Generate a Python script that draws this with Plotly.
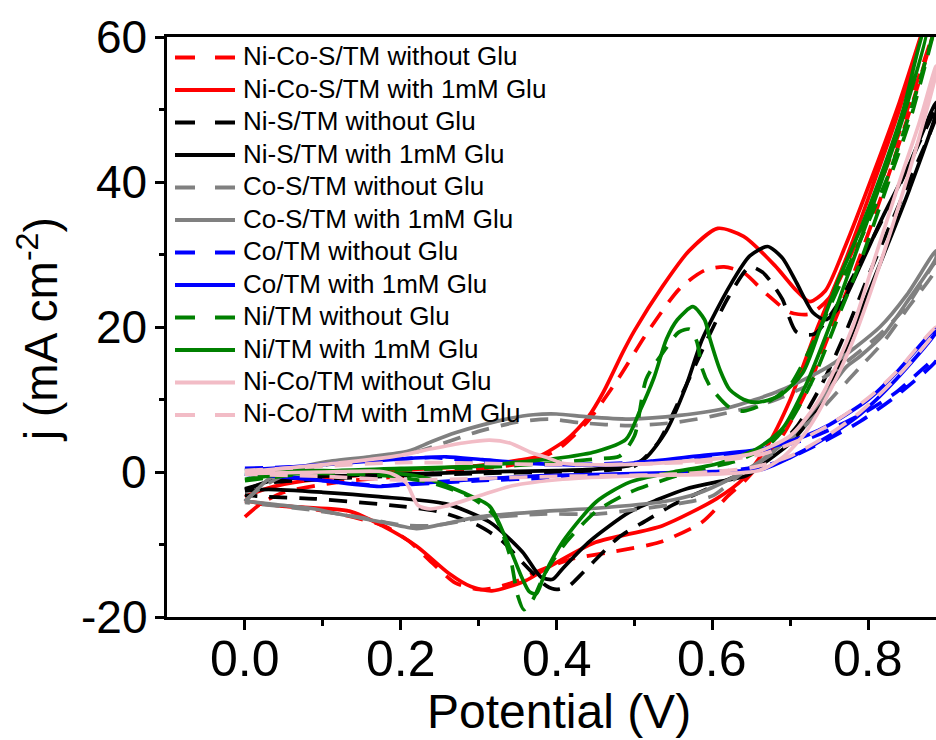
import plotly.graph_objects as go

# ---------------- data (potential V, current density mA cm^-2) ----------------
nicos_no_x = [0, 0.02, 0.05, 0.12, 0.2, 0.3, 0.36, 0.40, 0.44, 0.48, 0.515, 0.558, 0.59, 0.615, 0.64, 0.67, 0.70, 0.725, 0.75, 0.78, 0.82, 0.86, 0.885,
              0.885, 0.86, 0.82, 0.78, 0.75, 0.72, 0.69, 0.66, 0.64, 0.62, 0.587, 0.532, 0.472, 0.42, 0.38, 0.35, 0.32, 0.30, 0.27, 0.24, 0.21, 0.18, 0.13, 0.08, 0.04, 0.0]
nicos_no_y = [-6.2, -4.4, -2.8, -1.4, -0.6, 0.4, 1.3, 3, 7, 13, 19, 25.3, 27.8, 28.3, 27.5, 24.5, 22, 21.8, 24, 30.5, 41, 53, 61,
              61, 52, 39, 27, 19, 11, 5, 1, -1.4, -3.3, -6.9, -9.7, -11, -12, -13.5, -15, -16, -16.2, -15.3, -12.5, -9.5, -7.5, -6, -5, -4.6, -4.2]

nicos_glu_x = [0, 0.03, 0.078, 0.15, 0.2, 0.3, 0.35, 0.378, 0.413, 0.44, 0.46, 0.485, 0.50, 0.536, 0.57, 0.607, 0.64, 0.68, 0.708, 0.725, 0.745, 0.77, 0.806, 0.84, 0.87,
               0.87, 0.84, 0.806, 0.77, 0.734, 0.70, 0.67, 0.639, 0.605, 0.536, 0.45, 0.387, 0.36, 0.317, 0.29, 0.262, 0.22, 0.176, 0.134, 0.048, 0]
nicos_glu_y = [-3.4, -2.2, -1.2, -0.4, 0.2, 0.9, 1.6, 2.2, 4.5, 7.5, 11, 16.5, 19.5, 25.6, 30.5, 33.6, 32.5, 28.5, 25, 23.5, 25, 31, 41, 51, 61,
               61, 50, 39.5, 29, 19.7, 10, 3.5, -1, -3.7, -7.4, -9.7, -13.3, -15, -16.4, -15.8, -14, -10.2, -7.4, -5.4, -4.7, -4]

nis_no_x = [0, 0.03, 0.1, 0.2, 0.3, 0.4, 0.47, 0.5, 0.53, 0.56, 0.59, 0.62, 0.648, 0.665, 0.68, 0.69, 0.708, 0.73, 0.76, 0.80, 0.84, 0.887,
            0.887, 0.84, 0.80, 0.77, 0.74, 0.71, 0.68, 0.65, 0.6, 0.55, 0.515, 0.48, 0.451, 0.43, 0.416, 0.40, 0.387, 0.37, 0.352, 0.33, 0.3, 0.25, 0.198, 0.09, 0.027, 0]
nis_no_y = [-2.3, -1.5, -1, -0.5, -0.2, 0, 0.3, 0.8, 4, 10.5, 17.5, 24, 28.3, 27.5, 25.5, 23.8, 19.3, 19, 23, 31, 39.5, 50,
            49, 37, 27, 19, 12, 6.5, 3, 0.5, -2, -4.5, -6.7, -9, -12, -14.3, -15.7, -16.2, -15.7, -14, -12, -9.5, -7.4, -5.5, -4.7, -3.7, -3.4, -3.2]

nis_glu_x = [0, 0.03, 0.08, 0.2, 0.3, 0.4, 0.45, 0.494, 0.515, 0.54, 0.565, 0.587, 0.622, 0.648, 0.671, 0.69, 0.708, 0.729, 0.745, 0.765, 0.79, 0.82, 0.853, 0.887,
             0.887, 0.853, 0.82, 0.79, 0.76, 0.73, 0.70, 0.67, 0.644, 0.6, 0.567, 0.53, 0.494, 0.442, 0.408, 0.395, 0.38, 0.356, 0.314, 0.258, 0.172, 0.1, 0.03, 0]
nis_glu_y = [-2.5, -1.3, -0.7, -0.3, 0, 0.2, 0.4, 0.9, 2, 5.5, 11.5, 18.3, 25.6, 29.8, 31.1, 29.5, 26.1, 22, 21, 23, 28.5, 35.5, 42.5, 51,
             49.5, 39, 30, 22, 14, 8, 4, 1.5, -0.5, -1.5, -2.3, -3.8, -5.5, -9.6, -13.3, -14.8, -14.5, -11, -6.9, -4.4, -3.4, -2.8, -2.4, -2.6]

cos_no_x = [0, 0.02, 0.05, 0.1, 0.16, 0.21, 0.25, 0.3, 0.35, 0.39, 0.43, 0.494, 0.55, 0.6, 0.677, 0.75, 0.815, 0.85, 0.887,
            0.887, 0.85, 0.82, 0.79, 0.76, 0.73, 0.70, 0.67, 0.64, 0.6, 0.56, 0.5, 0.451, 0.38, 0.3, 0.24, 0.2, 0.15, 0.09, 0]
cos_no_y = [-4, -2.2, -0.5, 0.9, 1.7, 2.5, 3.8, 5.6, 6.9, 7.3, 6.8, 6.4, 6.8, 7.7, 9.8, 13.5, 19, 23, 29,
            28, 22.5, 18, 14.5, 11, 7.5, 4.5, 2, 0, -3.3, -4.3, -5.2, -5.8, -5.8, -6.4, -7.4, -7.3, -6.3, -5.3, -4.2]

cos_glu_x = [0, 0.015, 0.03, 0.06, 0.104, 0.16, 0.21, 0.24, 0.27, 0.305, 0.34, 0.37, 0.4, 0.44, 0.494, 0.558, 0.622, 0.686, 0.75, 0.815, 0.85, 0.887,
             0.887, 0.85, 0.82, 0.79, 0.772, 0.74, 0.71, 0.68, 0.65, 0.622, 0.58, 0.536, 0.45, 0.387, 0.3, 0.25, 0.22, 0.176, 0.12, 0.09, 0.04, 0]
cos_glu_y = [-4.1, -2.5, -1, 0.3, 1.4, 2.1, 2.9, 4.2, 5.4, 6.5, 7.4, 7.9, 8, 7.6, 7.3, 7.8, 8.9, 11.2, 14.6, 20, 24.5, 30.5,
             29.5, 23.5, 19, 16, 14.5, 10, 6, 3, 0.7, -1, -3, -4.1, -5, -5.4, -6.2, -7.3, -7.8, -6.9, -5.8, -5.1, -4.5, -4]

co_no_x = [0, 0.06, 0.15, 0.24, 0.305, 0.4, 0.5, 0.58, 0.665, 0.72, 0.75, 0.8, 0.836, 0.887,
           0.887, 0.836, 0.79, 0.75, 0.7, 0.665, 0.58, 0.472, 0.4, 0.3, 0.2, 0.176, 0.12, 0.05, 0]
co_no_y = [0.5, 0.7, 1.4, 2, 1.4, 1, 1.3, 2, 3, 4.5, 5.8, 8.5, 11, 15.7,
           15.3, 10.5, 7, 4.6, 2, 0.8, -0.2, -0.5, -0.8, -1.2, -1.8, -1.9, -1.4, -0.6, -0.3]

co_glu_x = [0, 0.05, 0.12, 0.2, 0.258, 0.305, 0.365, 0.472, 0.58, 0.665, 0.72, 0.75, 0.8, 0.836, 0.887,
            0.887, 0.836, 0.79, 0.75, 0.7, 0.665, 0.58, 0.472, 0.387, 0.3, 0.2, 0.172, 0.1, 0.03, 0]
co_glu_y = [0.3, 0.6, 1.2, 1.8, 2.1, 1.7, 1.2, 1, 2.2, 3.2, 5, 6.5, 10, 13.7, 19.8,
            19.3, 12.8, 8, 5, 2, 0.4, 0, -0.3, -0.5, -1, -1.7, -2, -1.2, -0.5, -0.3]

ni_no_x = [0, 0.1, 0.2, 0.3, 0.4, 0.45, 0.481, 0.5, 0.515, 0.54, 0.557, 0.571, 0.58, 0.587, 0.597, 0.622, 0.64, 0.674, 0.70, 0.73, 0.76, 0.79, 0.826, 0.855, 0.885,
           0.885, 0.855, 0.826, 0.79, 0.76, 0.73, 0.70, 0.67, 0.63, 0.57, 0.494, 0.45, 0.41, 0.385, 0.37, 0.358, 0.35, 0.34, 0.32, 0.29, 0.24, 0.18, 0.1, 0]
ni_no_y = [-1.2, 0, 0.3, 0.6, 1.3, 1.8, 2.2, 5, 12.8, 17, 19.3, 19.7, 18, 14.2, 11.8, 8.9, 8.4, 9.8, 12, 18, 25, 32, 41, 50, 61,
           61, 49, 40, 29, 21, 13, 7, 3.5, 1.5, 0, -2.8, -5.5, -10, -14, -17.5, -19, -17, -11.5, -6, -3.5, -1.5, -0.5, -0.2, -0.3]

ni_glu_x = [0, 0.05, 0.12, 0.2, 0.3, 0.365, 0.408, 0.45, 0.489, 0.506, 0.525, 0.541, 0.555, 0.575, 0.59, 0.597, 0.61, 0.622, 0.64, 0.657, 0.686, 0.716, 0.738, 0.76, 0.79, 0.815, 0.845, 0.872,
            0.875, 0.845, 0.815, 0.78, 0.75, 0.72, 0.69, 0.657, 0.605, 0.55, 0.494, 0.451, 0.408, 0.385, 0.374, 0.365, 0.356, 0.335, 0.314, 0.279, 0.228, 0.172, 0.1, 0]
ni_glu_y = [-1, -0.3, 0.2, 0.5, 0.8, 1.5, 2, 2.8, 4.5, 8.2, 13, 18.3, 21, 22.8, 21, 18.3, 14, 11.4, 10, 9.6, 10.5, 13.7, 19.7, 26, 33.5, 40.5, 50, 61,
            61, 49, 39.5, 29, 20, 12, 6, 3.2, 1.1, 0, -1.4, -4.1, -9.6, -14, -16.8, -16.5, -14.7, -9.2, -4.7, -2.8, -0.7, 0, 0.2, 0.2]

nico_no_x = [0, 0.06, 0.134, 0.2, 0.24, 0.28, 0.314, 0.34, 0.365, 0.39, 0.408, 0.45, 0.506, 0.58, 0.65, 0.70, 0.74, 0.78, 0.81, 0.84, 0.865, 0.887,
             0.887, 0.865, 0.84, 0.81, 0.78, 0.75, 0.72, 0.69, 0.66, 0.6, 0.506, 0.408, 0.343, 0.3, 0.258, 0.238, 0.222, 0.207, 0.19, 0.172, 0.1, 0]
nico_no_y = [0, 0.6, 1.4, 2.3, 3.2, 4, 4.4, 4, 2.8, 1.9, 1.2, 1, 1.1, 1.6, 2.5, 5, 10.5, 20, 30, 40, 48, 56,
             55, 46, 37, 27, 18, 11, 5.5, 2, 0.2, -0.3, -0.5, -1, -1.9, -3.3, -4.7, -5.1, -4.6, -1.5, -0.3, 0.1, 0, -0.2]

nico_glu_x = [0, 0.1, 0.2, 0.3, 0.4, 0.5, 0.6, 0.665, 0.72, 0.75, 0.8, 0.836, 0.887,
              0.887, 0.836, 0.79, 0.75, 0.7, 0.65, 0.55, 0.472, 0.4, 0.3, 0.2, 0.1, 0]
nico_glu_y = [0.2, 0.8, 1.3, 1.2, 1, 1.1, 1.5, 2.5, 4.8, 6.5, 10.2, 13.8, 20,
              19.5, 13, 8.3, 5.2, 2.2, 0.6, -0.3, -0.5, -0.6, -0.9, -1.1, -0.6, -0.3]

series_names = ["Ni-Co-S/TM without Glu", "Ni-Co-S/TM with 1mM Glu",
                "Ni-S/TM without Glu", "Ni-S/TM with 1mM Glu",
                "Co-S/TM without Glu", "Co-S/TM with 1mM Glu",
                "Co/TM without Glu", "Co/TM with 1mM Glu",
                "Ni/TM without Glu", "Ni/TM with 1mM Glu",
                "Ni-Co/TM without Glu", "Ni-Co/TM with 1mM Glu"]
series_x = [nicos_no_x, nicos_glu_x, nis_no_x, nis_glu_x, cos_no_x, cos_glu_x,
            co_no_x, co_glu_x, ni_no_x, ni_glu_x, nico_no_x, nico_glu_x]
series_y = [nicos_no_y, nicos_glu_y, nis_no_y, nis_glu_y, cos_no_y, cos_glu_y,
            co_no_y, co_glu_y, ni_no_y, ni_glu_y, nico_no_y, nico_glu_y]

x_tick_vals = [0.0, 0.2, 0.4, 0.6, 0.8]
x_tick_text = ["0.0", "0.2", "0.4", "0.6", "0.8"]
x_minor_vals = [0.1, 0.3, 0.5, 0.7]
y_tick_vals = [-20, 0, 20, 40, 60]
y_tick_text = ["-20", "0", "20", "40", "60"]
y_minor_vals = [-10, 10, 30, 50]

# ---------------- styles ----------------
RED, BLACK, GRAY, BLUE, GREEN, PINK = "#FF0000", "#000000", "#808080", "#0000FF", "#008000", "#F2BCC6"
colors = [RED, RED, BLACK, BLACK, GRAY, GRAY, BLUE, BLUE, GREEN, GREEN, PINK, PINK]
dashed = [True, False, True, False, True, False, True, False, True, False, False, True]

W, H = 936, 740
ML, MR, MT, MB = 167, 0, 37, 123
PW, PH = W - ML - MR, H - MT - MB
FONT = "Liberation Sans, Arial, Helvetica, sans-serif"


def pxx(px):
    return (px - ML) / PW


def pxy(py):
    return (H - MB - py) / PH


fig = go.Figure()
for nm, xs, ys, c, d in zip(series_names, series_x, series_y, colors, dashed):
    fig.add_trace(go.Scatter(x=xs, y=ys, mode="lines", name=nm, showlegend=False,
                             line=dict(color=c, width=3.7, dash="18px,12px" if d else "solid",
                                       shape="spline", smoothing=0.7)))

shapes = []
annotations = []
# legend drawn manually
for i, (nm, c, d) in enumerate(zip(series_names, colors, dashed)):
    yrow = 57.5 + 32.5 * i
    shapes.append(dict(type="line", xref="paper", yref="paper",
                       x0=pxx(175), x1=pxx(235), y0=pxy(yrow), y1=pxy(yrow),
                       line=dict(color=c, width=4, dash="20px,20px" if d else "solid")))
    annotations.append(dict(text=nm, xref="paper", yref="paper", x=pxx(241), y=pxy(yrow - 1.5),
                            xanchor="left", yanchor="middle", showarrow=False,
                            font=dict(family=FONT, size=26, color="black")))

# tick labels
for v, t in zip(x_tick_vals, x_tick_text):
    annotations.append(dict(text=t, xref="x", yref="paper", x=v, y=pxy(629),
                            xanchor="center", yanchor="top", showarrow=False,
                            font=dict(family=FONT, size=50, color="black")))
for v, t in zip(y_tick_vals, y_tick_text):
    annotations.append(dict(text=t, xref="paper", yref="y", x=pxx(149), y=v,
                            xanchor="right", yanchor="middle", showarrow=False,
                            font=dict(family=FONT, size=46, color="black")))

# axis titles
annotations.append(dict(text="Potential (V)", xref="paper", yref="paper", x=pxx(559), y=pxy(683),
                        xanchor="center", yanchor="top", showarrow=False,
                        font=dict(family=FONT, size=48, color="black")))
annotations.append(dict(text="j (mA cm<sup>-2</sup>)", xref="paper", yref="paper", x=pxx(38), y=pxy(330),
                        xanchor="center", yanchor="middle", showarrow=False, textangle=-90,
                        font=dict(family=FONT, size=46, color="black")))

fig.update_layout(
    width=W, height=H, margin=dict(l=ML, r=MR, t=MT, b=MB, pad=0, autoexpand=False),
    paper_bgcolor="white", plot_bgcolor="white",
    shapes=shapes, annotations=annotations, showlegend=False,
    xaxis=dict(range=[-0.1, 0.887], tickmode="array", tickvals=x_tick_vals, showticklabels=False,
               ticks="outside", ticklen=10, tickwidth=3, tickcolor="black",
               showline=True, linewidth=3, linecolor="black", mirror=True,
               showgrid=False, zeroline=False, automargin=False,
               minor=dict(tickmode="array", tickvals=x_minor_vals, ticks="outside", ticklen=6, tickwidth=3,
                          tickcolor="black", showgrid=False)),
    yaxis=dict(range=[-20, 60], tickmode="array", tickvals=y_tick_vals, showticklabels=False,
               ticks="outside", ticklen=9, tickwidth=3, tickcolor="black",
               showline=True, linewidth=3, linecolor="black", mirror=False,
               showgrid=False, zeroline=False, automargin=False,
               minor=dict(tickmode="array", tickvals=y_minor_vals, ticks="outside", ticklen=5, tickwidth=3,
                          tickcolor="black", showgrid=False)),
)

fig.write_html("out.html", config={"displayModeBar": False},
               post_script="document.body.style.margin='0';document.body.style.overflow='hidden';")
